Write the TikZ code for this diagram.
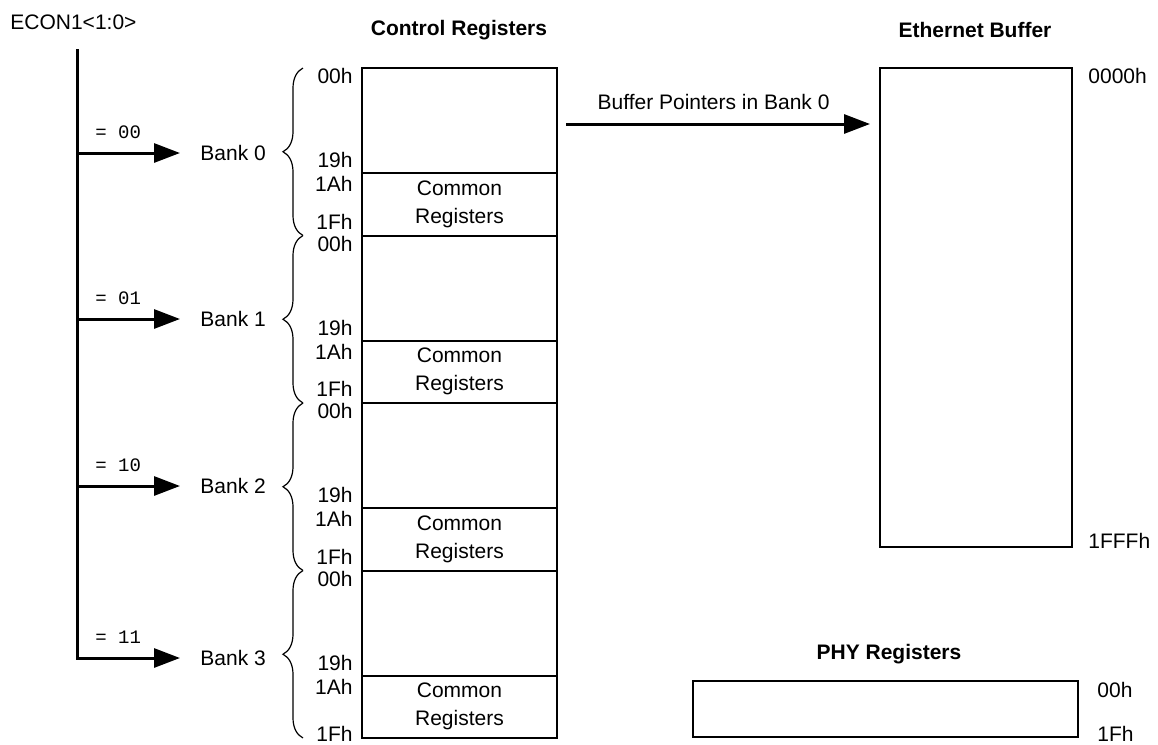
\documentclass[tikz,border=0pt]{standalone}
\usepackage{fontspec}
\setmainfont{Liberation Sans}
\setmonofont{Liberation Mono}
\usetikzlibrary{arrows.meta,decorations.pathreplacing}

\tikzset{
  regbox/.style={draw, line width=1pt, rectangle, minimum width=97.5pt, inner sep=0pt, outer sep=0pt},
  title/.style={font=\fontsize{10.5}{13}\selectfont\bfseries},
  addr/.style={inner sep=0pt},
  bigarrow/.style={line width=1.5pt, -{Triangle[length=13pt,width=9.5pt]}},
  bankbrace/.style={decorate, decoration={brace, amplitude=10pt}, line width=0.6pt},
}

\begin{document}
\begin{tikzpicture}[x=0.5pt, y=-0.5pt, font=\fontsize{10.5}{14}\selectfont]
\useasboundingbox (0,0) rectangle (1158,745);

\node[anchor=west, inner sep=0pt] (econ) at (10,22) {ECON1<1:0>};
\node[title] (ctltitle) at (459,30) {Control Registers};
\node[title] (ethtitle) at (975,30) {Ethernet Buffer};
\node[title] (phytitle) at (889,654) {PHY Registers};

% Bus von ECON1 zu den vier Baenken
\coordinate (bustop) at (77,50);
\foreach \i/\bits/\ya/\ff in {0/00/153/222, 1/01/319/389, 2/10/486/557, 3/11/658/734} {
  \pgfmathsetmacro{\yb}{68+167.5*\i}
  \node[regbox, anchor=north west, minimum height=52.5pt] (regs\i) at (362,\yb) {};
  \node[regbox, anchor=north, minimum height=31.25pt, align=center] (comm\i) at (regs\i.south) {Common\\Registers};
  \node[addr, anchor=east] (lo\i) at (353,\yb+8) {00h};
  \node[addr, anchor=east] (nn\i) at (353,\yb+92) {19h};
  \node[addr, anchor=east] (ca\i) at (353,\yb+116) {1Ah};
  \node[addr, anchor=east] (hi\i) at (353,\ff) {1Fh};
  \draw[bankbrace] (303,\yb+167.5) -- (303,\yb);
  \node[anchor=west, inner xsep=10pt, inner ysep=0pt] (bank\i) at (180,\ya) {Bank \i};
  \coordinate (s\i) at (77,\ya);
  \node[anchor=west, inner sep=0pt, font=\fontsize{9.5}{11}\ttfamily] (sel\i) at (95,\ya-21) {= \bits};
  \draw[bigarrow] (s\i) -- (bank\i.west);
}
\draw[line width=1.5pt, line cap=rect] (bustop) -- (s3);

% Ethernet-Puffer und PHY-Register
\node[regbox, anchor=north west, minimum width=96pt, minimum height=239.5pt] (ethbuf) at (880,68) {};
\node[addr, anchor=west] (ethlo) at (1088,76) {0000h};
\node[addr, anchor=west] (ethhi) at (1088,541) {1FFFh};
\coordinate (ptr) at (566,124);
\draw[bigarrow, shorten >=5pt] (ptr) -- (ptr -| ethbuf.west)
  node[above=3pt, pos=0.47] (ptrlbl) {Buffer Pointers in Bank 0};

\node[regbox, anchor=north west, minimum width=192.5pt, minimum height=28pt] (phy) at (693,681) {};
\node[addr, anchor=west] (phylo) at (1097,690) {00h};
\node[addr, anchor=west] (phyhi) at (1097,734) {1Fh};
\end{tikzpicture}
\end{document}
